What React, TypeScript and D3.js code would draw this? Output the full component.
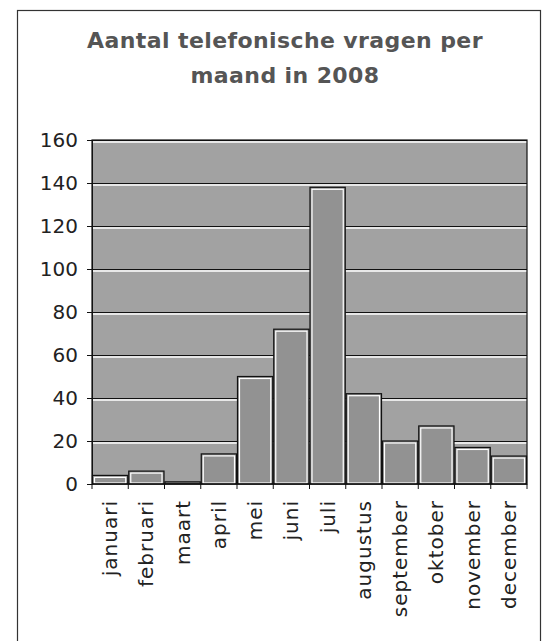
import React, { useRef, useEffect } from 'react';
import * as d3 from 'd3';

const months: string[] = [
  'januari', 'februari', 'maart', 'april', 'mei', 'juni',
  'juli', 'augustus', 'september', 'oktober', 'november', 'december',
];
const calls: number[] = [4, 6, 1, 14, 50, 72, 138, 42, 20, 27, 17, 13];
const yTicks: number[] = [0, 20, 40, 60, 80, 100, 120, 140, 160];
const titleLines: string[] = ['Aantal telefonische vragen per', 'maand in 2008'];

const Chart: React.FC = () => {
  const svgRef = useRef<SVGSVGElement | null>(null);

  useEffect(() => {
    if (!svgRef.current) return;
    const svg = d3.select(svgRef.current);
    svg.selectAll('*').remove();

    const width = 547;
    const height = 641;
    const margin = { top: 140, right: 20, bottom: 157, left: 92 };
    const font = 'Verdana, "DejaVu Sans", sans-serif';

    svg.append('rect')
      .attr('width', width).attr('height', height).attr('fill', '#fff');

    // outer frame
    svg.append('rect')
      .attr('x', 17.5).attr('y', 10.5)
      .attr('width', 523).attr('height', 660)
      .attr('fill', 'none').attr('stroke', '#333').attr('stroke-width', 1.2);

    // title
    svg.append('text')
      .attr('x', 285).attr('y', 48)
      .attr('text-anchor', 'middle')
      .attr('font-family', font).attr('font-weight', 'bold')
      .attr('font-size', 22).attr('letter-spacing', 0.4).attr('fill', '#555')
      .selectAll('tspan')
      .data(titleLines)
      .join('tspan')
      .attr('x', 285)
      .attr('dy', (d, i) => (i === 0 ? 0 : 35))
      .text(d => d);

    const x = d3.scaleBand<string>()
      .domain(months)
      .range([margin.left, width - margin.right])
      .padding(0);

    const y = d3.scaleLinear()
      .domain([0, 160])
      .range([height - margin.bottom, margin.top]);

    // plot background
    svg.append('rect')
      .attr('x', margin.left).attr('y', y(160))
      .attr('width', width - margin.right - margin.left)
      .attr('height', y(0) - y(160))
      .attr('fill', '#a2a2a2');

    // gridlines (double line look)
    const grid = svg.append('g');
    grid.selectAll('line.w')
      .data(yTicks.filter(t => t > 0))
      .join('line')
      .attr('class', 'w')
      .attr('x1', margin.left).attr('x2', width - margin.right)
      .attr('y1', d => y(d) + 2).attr('y2', d => y(d) + 2)
      .attr('stroke', '#fff').attr('stroke-width', 1.5);
    grid.selectAll('line.b')
      .data(yTicks.filter(t => t > 0))
      .join('line')
      .attr('class', 'b')
      .attr('x1', margin.left).attr('x2', width - margin.right)
      .attr('y1', d => y(d) + 0.5).attr('y2', d => y(d) + 0.5)
      .attr('stroke', '#111').attr('stroke-width', 1.2);

    // bars
    const bars = svg.append('g');
    bars.selectAll('rect.bar')
      .data(calls)
      .join('rect')
      .attr('class', 'bar')
      .attr('x', (d, i) => x(months[i])! + 0.5)
      .attr('y', d => y(d))
      .attr('width', x.bandwidth() - 1)
      .attr('height', d => y(0) - y(d))
      .attr('fill', '#929292')
      .attr('stroke', '#111').attr('stroke-width', 1.2);
    bars.selectAll('rect.inner')
      .data(calls)
      .join('rect')
      .attr('class', 'inner')
      .attr('x', (d, i) => x(months[i])! + 2.5)
      .attr('y', d => y(d) + 2)
      .attr('width', x.bandwidth() - 5)
      .attr('height', d => Math.max(0, y(0) - y(d) - 3))
      .attr('fill', 'none')
      .attr('stroke', '#fff').attr('stroke-width', 1.2);

    // frame of plot area
    svg.append('rect')
      .attr('x', margin.left).attr('y', y(160))
      .attr('width', width - margin.right - margin.left)
      .attr('height', y(0) - y(160))
      .attr('fill', 'none').attr('stroke', '#111').attr('stroke-width', 1.2);

    // y axis
    const yAxis = svg.append('g')
      .attr('transform', `translate(${margin.left},0)`)
      .call(d3.axisLeft(y).tickValues(yTicks).tickSize(5).tickPadding(9));
    yAxis.select('.domain').attr('stroke', '#111');
    yAxis.selectAll('line').attr('stroke', '#111');
    yAxis.selectAll('text')
      .attr('font-family', font).attr('font-size', 20).attr('fill', '#222');

    // x axis: ticks at band boundaries
    const xAxisG = svg.append('g')
      .attr('transform', `translate(0,${y(0)})`);
    xAxisG.append('line')
      .attr('x1', margin.left).attr('x2', width - margin.right)
      .attr('stroke', '#111').attr('stroke-width', 1.2);
    const bounds = months.map(m => x(m)!).concat([width - margin.right]);
    xAxisG.selectAll('line.tick')
      .data(bounds)
      .join('line')
      .attr('class', 'tick')
      .attr('x1', d => d).attr('x2', d => d)
      .attr('y1', 0).attr('y2', 5)
      .attr('stroke', '#111');
    xAxisG.selectAll('text')
      .data(months)
      .join('text')
      .attr('transform', d => `translate(${x(d)! + x.bandwidth() / 2 + 7},16) rotate(-90)`)
      .attr('text-anchor', 'end')
      .attr('font-family', font).attr('font-size', 20)
      .attr('letter-spacing', 1).attr('fill', '#222')
      .text(d => d);
  }, []);

  return (
    <svg ref={svgRef} width={547} height={641}
      style={{ position: 'absolute', left: 0, top: 0, display: 'block' }} />
  );
};

export default function App() {
  return <Chart />;
}
